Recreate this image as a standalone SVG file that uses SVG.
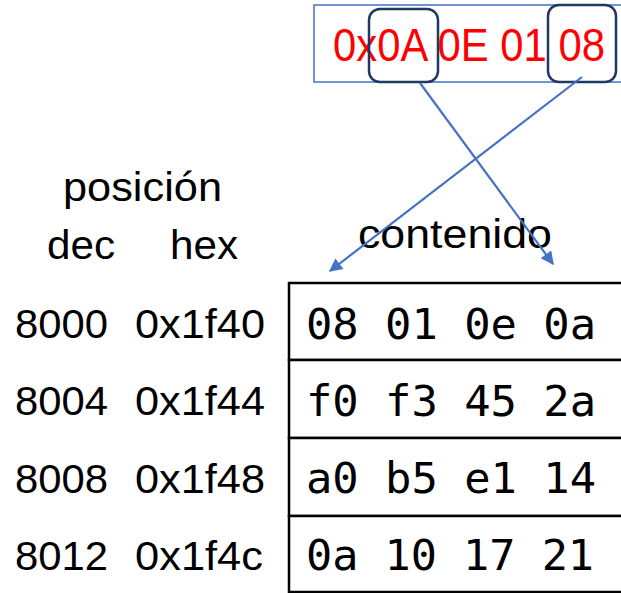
<svg xmlns="http://www.w3.org/2000/svg" width="621" height="593" viewBox="0 0 621 593">
<defs>
<style>
.lbl{font-family:"Liberation Sans","Open Sans",sans-serif;font-size:40px;fill:#000}
.mono{font-family:"DejaVu Sans Mono","Liberation Mono",monospace;font-size:43px;fill:#000}
.red{font-family:"Liberation Sans","Open Sans",sans-serif;font-size:46px;fill:#ff0000}
.cell{fill:#fff;stroke:#000;stroke-width:2.5}
.conn{stroke:#4472C4;stroke-width:2.2;fill:none;marker-end:url(#ah)}
</style>
<marker id="ah" viewBox="0 0 10 10" refX="9" refY="5" markerWidth="7.5" markerHeight="6" markerUnits="strokeWidth" orient="auto">
<path d="M0,0 L10,5 L0,10 z" fill="#4472C4"/>
</marker>
</defs>
<rect width="621" height="593" fill="#fff"/>
<g id="word">
<rect x="314" y="5" width="312" height="77" fill="#fff" stroke="#4472C4" stroke-width="1.5"/>
<text class="red" x="333" y="61" textLength="272" lengthAdjust="spacingAndGlyphs">0x0A 0E 01 08</text>
<rect x="369" y="9" width="69" height="73" rx="11" fill="none" stroke="#1F3864" stroke-width="2.5"/>
<rect x="548" y="5" width="68" height="77" rx="11" fill="none" stroke="#1F3864" stroke-width="2.5"/>
</g>
<g id="headers">
<text class="lbl" x="63" y="201" textLength="159" lengthAdjust="spacingAndGlyphs">posición</text>
<text class="lbl" x="47" y="259" textLength="68" lengthAdjust="spacingAndGlyphs">dec</text>
<text class="lbl" x="170" y="259" textLength="68" lengthAdjust="spacingAndGlyphs">hex</text>
<text class="lbl" x="358" y="248" textLength="194" lengthAdjust="spacingAndGlyphs">contenido</text>
</g>
<g id="table">
<rect class="cell" x="289" y="283" width="340" height="77"/>
<rect class="cell" x="289" y="360" width="340" height="78"/>
<rect class="cell" x="289" y="438" width="340" height="78"/>
<rect class="cell" x="289" y="516" width="340" height="76"/>
<text class="mono" x="306" y="339" textLength="290" lengthAdjust="spacingAndGlyphs">08 01 0e 0a</text>
<text class="mono" x="306" y="416" textLength="290" lengthAdjust="spacingAndGlyphs">f0 f3 45 2a</text>
<text class="mono" x="306" y="493" textLength="290" lengthAdjust="spacingAndGlyphs">a0 b5 e1 14</text>
<text class="mono" x="306" y="570" textLength="288" lengthAdjust="spacingAndGlyphs">0a 10 17 21</text>
</g>
<g id="addresses">
<text class="lbl" x="15" y="338" textLength="93" lengthAdjust="spacingAndGlyphs">8000</text>
<text class="lbl" x="135" y="338" textLength="130" lengthAdjust="spacingAndGlyphs">0x1f40</text>
<text class="lbl" x="15" y="415" textLength="93" lengthAdjust="spacingAndGlyphs">8004</text>
<text class="lbl" x="135" y="415" textLength="130" lengthAdjust="spacingAndGlyphs">0x1f44</text>
<text class="lbl" x="15" y="493" textLength="93" lengthAdjust="spacingAndGlyphs">8008</text>
<text class="lbl" x="135" y="493" textLength="130" lengthAdjust="spacingAndGlyphs">0x1f48</text>
<text class="lbl" x="15" y="570" textLength="93" lengthAdjust="spacingAndGlyphs">8012</text>
<text class="lbl" x="135" y="570" textLength="128" lengthAdjust="spacingAndGlyphs">0x1f4c</text>
</g>
<g id="connectors">
<line class="conn" x1="420" y1="83" x2="553" y2="264"/>
<line class="conn" x1="582" y1="77" x2="330" y2="271"/>
</g>
</svg>
